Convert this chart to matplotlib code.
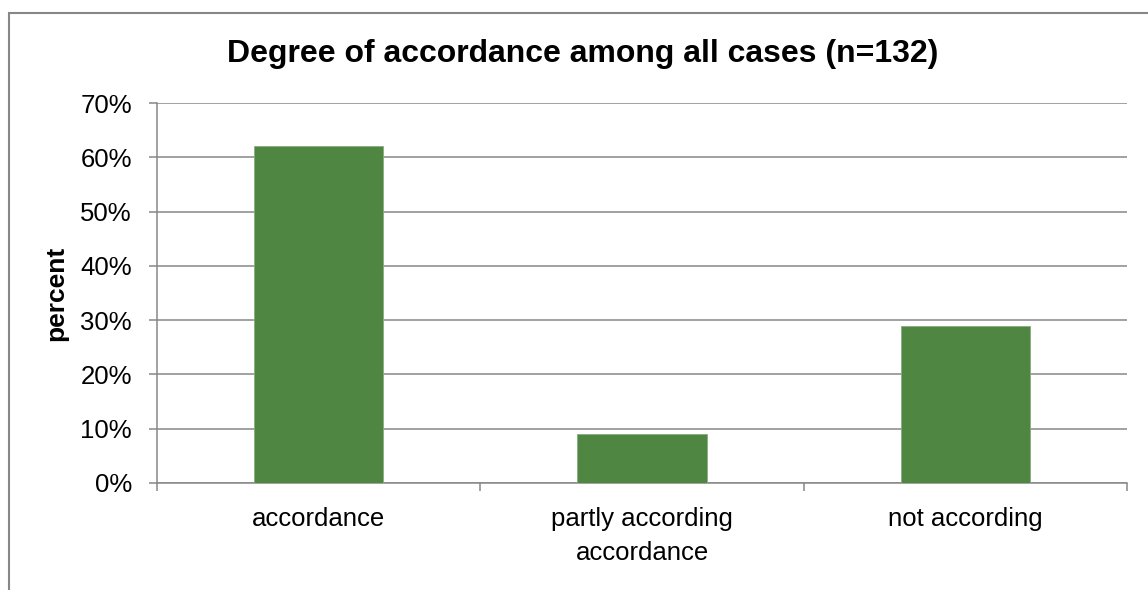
import numpy as np
import matplotlib.pyplot as plt
from matplotlib.patches import Rectangle
from matplotlib.ticker import FixedLocator, PercentFormatter

plt.rcParams['font.family'] = ['Liberation Sans', 'DejaVu Sans']

categories = ['accordance', 'partly according\naccordance', 'not according']
percent = [62, 9, 29]
yticks = [0, 10, 20, 30, 40, 50, 60, 70]

grey = '#878787'
bar_color = '#4F8642'

fig = plt.figure(figsize=(11.48, 5.90), dpi=100)
ax = fig.add_axes([0.1368, 0.1814, 0.8449, 0.644])

x = np.arange(len(categories))
ax.bar(x, percent, width=0.4, color=bar_color, edgecolor='#86AD7E',
       linewidth=0.6, zorder=3)

ax.set_xlim(-0.5, len(categories) - 0.5)
ax.set_ylim(0, 70)
ax.set_yticks(yticks)
ax.yaxis.set_major_formatter(PercentFormatter(decimals=0))
ax.yaxis.grid(True, color=grey, linewidth=1.1, zorder=0)

# category labels on minor ticks, separator ticks at the bin edges
ax.xaxis.set_major_locator(FixedLocator(np.arange(len(categories) + 1) - 0.5))
ax.xaxis.set_major_formatter(plt.NullFormatter())
ax.xaxis.set_minor_locator(FixedLocator(x))
ax.set_xticklabels(categories, minor=True, fontsize=18.5, linespacing=1.55)
ax.tick_params(axis='x', which='minor', length=0, pad=17)
ax.tick_params(axis='x', which='major', length=6, width=1.1, color=grey,
               direction='out')
ax.tick_params(axis='y', length=6, width=1.1, color=grey, labelsize=18.5,
               pad=12)

for side in ['top', 'right']:
    ax.spines[side].set_visible(False)
for side in ['left', 'bottom']:
    ax.spines[side].set_color(grey)
    ax.spines[side].set_linewidth(1.1)

ax.set_ylabel('percent', fontsize=19, fontweight='bold', labelpad=8.5)

fig.text(0.508, 0.9086, 'Degree of accordance among all cases (n=132)',
         ha='center', va='center', fontsize=23, fontweight='bold')

# chart frame
fig.patches.append(Rectangle((9 / 1148, -0.1), 1.2, 1 - 13 / 590 + 0.1,
                             transform=fig.transFigure, fill=False,
                             edgecolor=grey, linewidth=1.5))

fig.savefig('out.png', dpi=100)
